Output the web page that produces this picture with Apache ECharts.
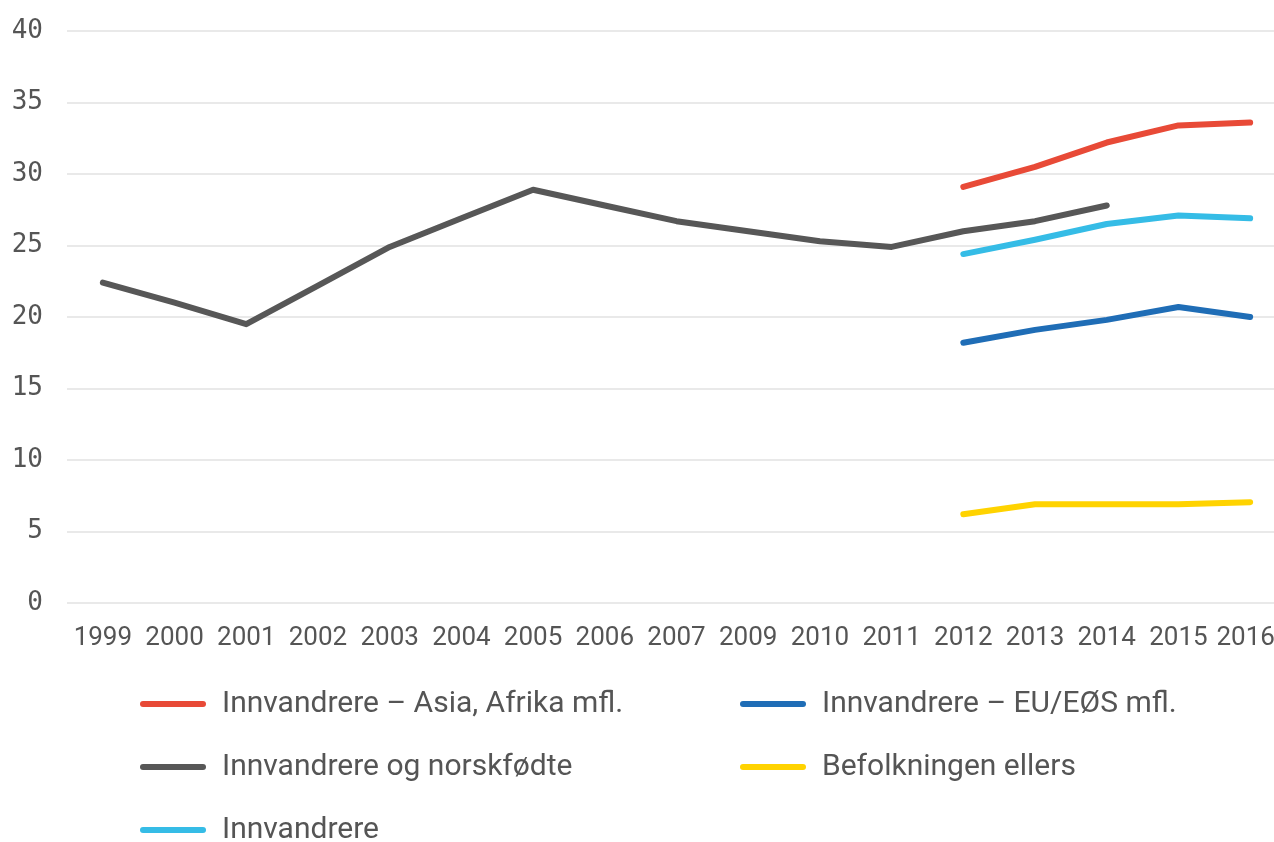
<!DOCTYPE html>
<html>
<head>
<meta charset="utf-8">
<script src="https://cdn.jsdelivr.net/npm/echarts@6/dist/echarts.min.js"></script>
<style>
  html, body { margin: 0; padding: 0; background: #fff; overflow: hidden; }
  /* plottet går litt ut over høyre kant, som i originalen */
  #chart { width: 1286px; height: 842px; }
</style>
</head>
<body>
<div id="chart"></div>
<script>
// årstall (2008 mangler i kilden)
var years = ['1999', '2000', '2001', '2002', '2003', '2004', '2005', '2006', '2007',
  '2009', '2010', '2011', '2012', '2013', '2014', '2015', '2016']

var asiaAfrika = [null, null, null, null, null, null, null, null, null, null, null, null,
  29.1, 30.5, 32.2, 33.4, 33.6]
var euEos = [null, null, null, null, null, null, null, null, null, null, null, null,
  18.2, 19.1, 19.8, 20.7, 20.0]
var innvOgNorskfodte = [22.4, 21.0, 19.5, 22.2, 24.9, 26.9, 28.9, 27.8, 26.7,
  26.0, 25.3, 24.9, 26.0, 26.7, 27.8, null, null]
var befolkningenEllers = [null, null, null, null, null, null, null, null, null, null, null, null,
  6.2, 6.9, 6.9, 6.9, 7.05]
var innvandrere = [null, null, null, null, null, null, null, null, null, null, null, null,
  24.4, 25.4, 26.5, 27.1, 26.9]

var names = ['Innvandrere – Asia, Afrika mfl.', 'Innvandrere – EU/EØS mfl.',
  'Innvandrere og norskfødte', 'Befolkningen ellers', 'Innvandrere']
var colors = ['#e84a37', '#1f6db6', '#575757', '#ffd300', '#35bce6']

var textFont = "'Liberation Sans Narrow', 'Roboto', sans-serif"
var icon = 'path://M3,0 L63,0 A3,3 0 0 1 63,6 L3,6 A3,3 0 0 1 3,0 Z'

function line (name, data, color) {
  return {
    name: name,
    type: 'line',
    data: data,
    showSymbol: false,
    symbol: 'none',
    connectNulls: false,
    lineStyle: { width: 6, color: color, cap: 'round', join: 'round' },
    itemStyle: { color: color },
    emphasis: { disabled: true }
  }
}

// en legend per oppføring, to kolonner
function legendItem (name, left, top) {
  return {
    data: [name],
    left: left,
    top: top,
    padding: 0,
    icon: icon,
    itemWidth: 66,
    itemHeight: 6,
    textStyle: { fontFamily: textFont, fontSize: 30, color: '#555', lineHeight: 36, padding: [0, 0, 0, 11] },
    selectedMode: false
  }
}

var myChart = echarts.init(document.getElementById('chart'))
var option = {
  animation: false,
  color: colors,
  grid: { left: 67, top: 31, right: 0, bottom: 239, containLabel: false },
  legend: [
    legendItem(names[0], 140, 686),
    legendItem(names[1], 740, 686),
    legendItem(names[2], 140, 749),
    legendItem(names[3], 740, 749),
    legendItem(names[4], 140, 812)
  ],
  xAxis: {
    type: 'category',
    data: years,
    boundaryGap: true,
    axisLine: { show: false },
    axisTick: { show: false },
    axisLabel: {
      fontFamily: textFont,
      fontSize: 26,
      color: '#555',
      margin: 22,
      interval: 0,
      // siste etikett litt mot venstre så den ikke kuttes
      formatter: function (v, i) {
        return i === years.length - 1 ? '{r|' + v + '}' : v
      },
      rich: { r: { fontFamily: textFont, fontSize: 26, color: '#555', padding: [0, 9, 0, 0] } }
    }
  },
  yAxis: {
    type: 'value',
    min: 0,
    max: 40,
    interval: 5,
    axisLine: { show: false },
    axisTick: { show: false },
    axisLabel: { fontFamily: "'DejaVu Sans Mono', monospace", fontSize: 26, color: '#555', margin: 24 },
    splitLine: { lineStyle: { color: '#e9e9e9', width: 2 } }
  },
  series: [
    line(names[0], asiaAfrika, colors[0]),
    line(names[1], euEos, colors[1]),
    line(names[2], innvOgNorskfodte, colors[2]),
    line(names[3], befolkningenEllers, colors[3]),
    line(names[4], innvandrere, colors[4])
  ]
}
myChart.setOption(option)
</script>
</body>
</html>
